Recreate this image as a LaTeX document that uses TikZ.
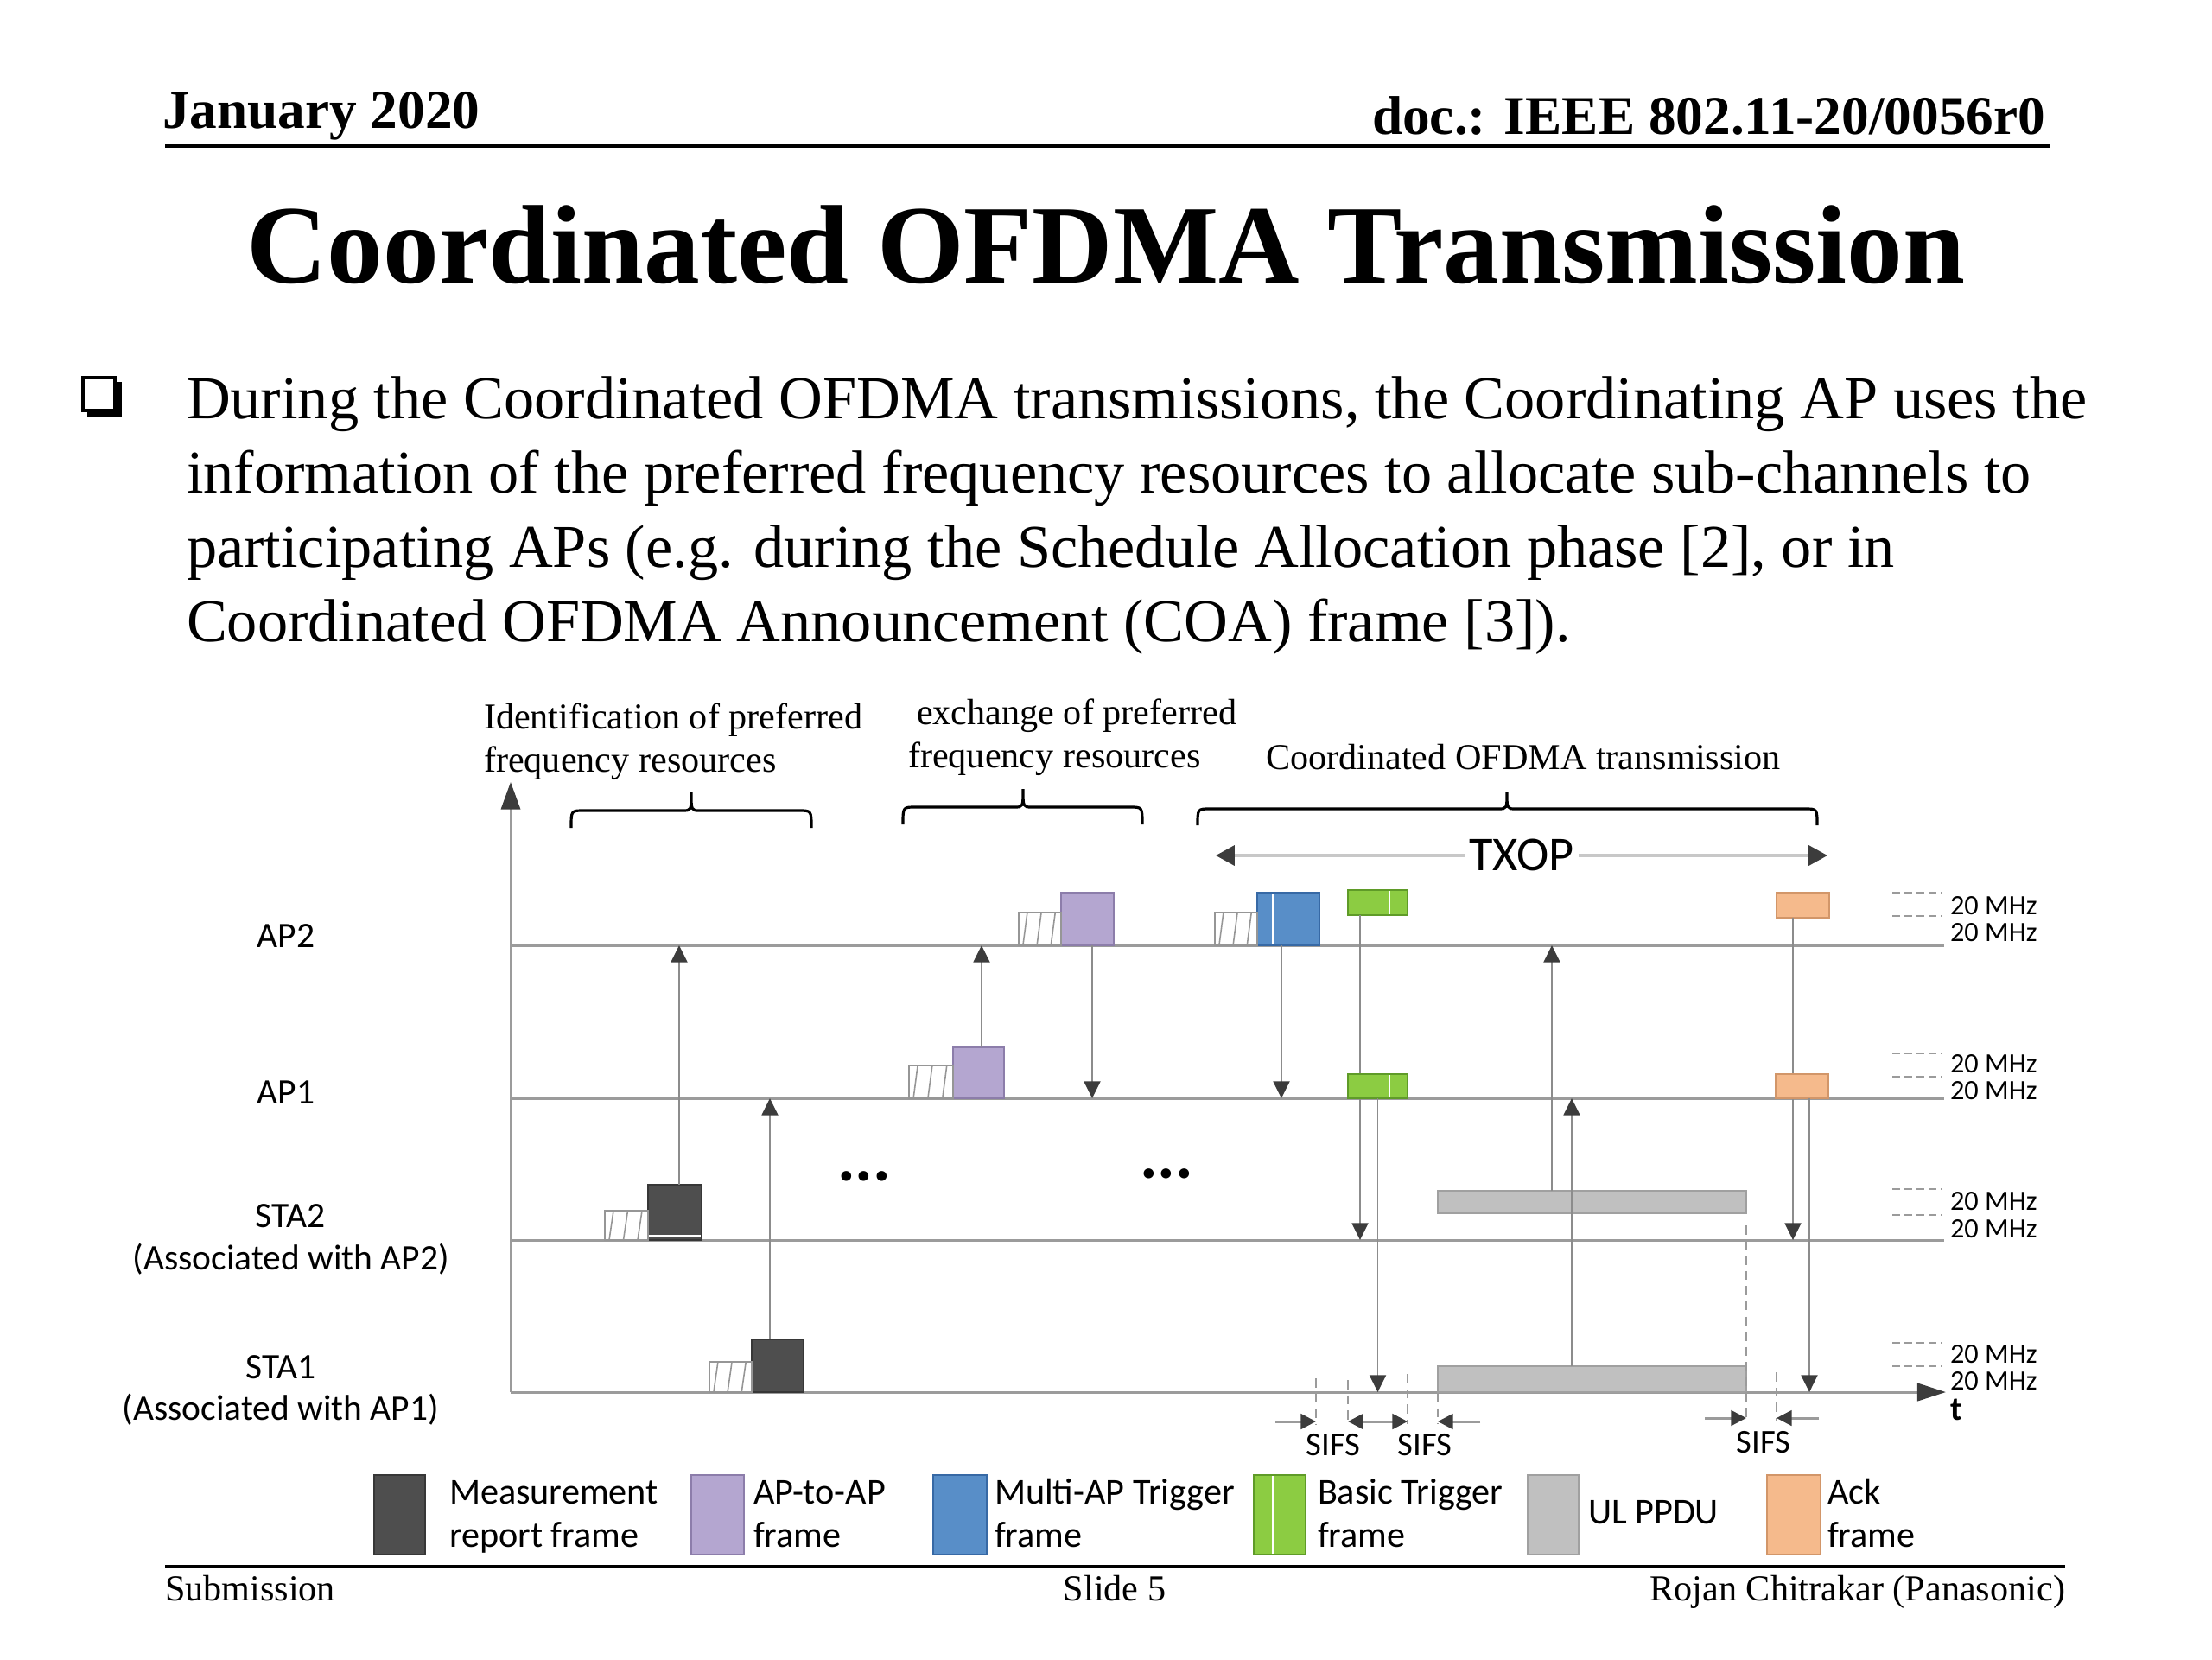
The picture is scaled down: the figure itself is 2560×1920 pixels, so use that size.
\documentclass[tikz,border=0pt]{standalone}
\usepackage{fontspec}
\setmainfont{Liberation Serif}
\newfontfamily\calibf{Carlito}
\usetikzlibrary{arrows.meta}
\definecolor{mrc}{RGB}{78,78,78}
\definecolor{mrd}{RGB}{55,55,55}
\definecolor{apc}{RGB}{180,166,208}
\definecolor{apd}{RGB}{140,125,170}
\definecolor{mtc}{RGB}{88,142,200}
\definecolor{mtd}{RGB}{55,105,165}
\definecolor{btc}{RGB}{140,204,66}
\definecolor{btd}{RGB}{95,155,40}
\definecolor{ulc}{RGB}{192,192,192}
\definecolor{uld}{RGB}{160,160,160}
\definecolor{ackc}{RGB}{245,186,140}
\definecolor{ackd}{RGB}{210,150,105}
\definecolor{linec}{RGB}{155,155,155}
\definecolor{arrc}{RGB}{140,140,140}
\definecolor{headc}{RGB}{60,60,60}
\definecolor{hatchc}{RGB}{150,150,150}
\definecolor{txopc}{RGB}{200,200,200}
\newcommand\hatchbox[4]{%
  \draw[hatchc, line width=0.45pt] (#1,#2) rectangle ({#1+#3},{#2-#4});
  \foreach \f in {0.1,0.43,0.76}{\draw[hatchc, line width=0.45pt] ({#1+\f*#3},#2) -- ({#1+\f*#3+5},{#2-#4});}}
\begin{document}
\begin{tikzpicture}[x=0.01cm,y=-0.01cm,
  every node/.style={inner sep=0pt, outer sep=0pt},
  tl/.style={draw=linec, line width=0.85pt},
  sig/.style={draw=arrc, line width=0.55pt, -{Triangle[width=5.4pt,length=5.6pt,color=headc]}},
  fr/.style 2 args={draw, line width=0.5pt, anchor=south west, minimum width=#1*0.01cm, minimum height=#2*0.01cm},
  hdr/.style={font=\fontsize{18}{20}\selectfont\bfseries},
  body/.style={anchor=base west, font=\fontsize{20}{24}\selectfont},
  foot/.style={font=\fontsize{12}{14}\selectfont},
  brl/.style={anchor=base west, font=\fontsize{12}{14}\selectfont},
  lab/.style={anchor=base, font=\calibf\fontsize{11.8}{13}\selectfont},
  mhz/.style={anchor=base west, font=\calibf\fontsize{9.2}{11}\selectfont},
  leg/.style={anchor=base west, font=\calibf\fontsize{12}{14}\selectfont},
  sifs/.style={anchor=base, font=\calibf\fontsize{11}{13}\selectfont},
  sifsd/.style={draw=linec, line width=0.45pt, dash pattern=on 3pt off 2pt},
  mhzd/.style={draw=linec, line width=0.5pt, dash pattern=on 2.5pt off 1.5pt},
  sa/.style={draw=linec, line width=0.85pt},
  brace/.style={draw=black, line width=0.9pt},
  dots/.style={anchor=base, font=\calibf\bfseries\fontsize{22}{24}\selectfont}
]
\useasboundingbox (0,0) rectangle (2560,1920);
% header
\node[hdr, anchor=base west] (hdate) at (188,148) {January 2020};
\node[hdr, anchor=base east] (hdoc) at (2367,155) {doc.: IEEE 802.11-20/0056r0};
\draw[line width=1.3pt] (191,169) -- (2373,169);
\node[anchor=base, font=\fontsize{36.8}{40}\selectfont\bfseries] (title) at (1280,327) {Coordinated OFDMA Transmission};
% bullet
\draw[line width=1.1pt] (96,437) rectangle (133,475);
\fill (133,442) rectangle (141,483);
\fill (101,475) rectangle (141,483);
\node[body] (b1) at (216,484) {During the Coordinated OFDMA transmissions, the Coordinating AP uses the};
\node[body] (b2) at (216,570) {information of the preferred frequency resources to allocate sub-channels to};
\node[body] (b3) at (216,656) {participating APs (e.g. during the Schedule Allocation phase [2], or in};
\node[body] (b4) at (216,742) {Coordinated OFDMA Announcement (COA) frame [3]).};
% phase labels
\node[brl] (p1a) at (560,843) {Identification of preferred};
\node[brl] (p1b) at (560,893) {frequency resources};
\node[brl] (p2a) at (1061,838) {exchange of preferred};
\node[brl] (p2b) at (1051,888) {frequency resources};
\node[brl] (p3a) at (1465,890) {Coordinated OFDMA transmission};
% braces
\draw[brace] (661,958) .. controls (661,938) .. (675,938) -- (790,938) .. controls (800,938) .. (800,917) .. controls (800,938) .. (810,938) -- (925,938) .. controls (939,938) .. (939,958);
\draw[brace] (1045,954) .. controls (1045,934) .. (1059,934) -- (1174,934) .. controls (1184,934) .. (1184,913) .. controls (1184,934) .. (1194,934) -- (1308,934) .. controls (1322,934) .. (1322,954);
\draw[brace] (1386,955) .. controls (1386,936) .. (1400,936) -- (1734,936) .. controls (1744,936) .. (1744,916) .. controls (1744,936) .. (1754,936) -- (2089,936) .. controls (2103,936) .. (2103,955);
% TXOP
\draw[draw=txopc, line width=1.1pt, {Triangle[width=6.5pt,length=6.2pt,color=headc]}-{Triangle[width=6.5pt,length=6.2pt,color=headc]}] (1407,990) -- (2115,990);
\node[fill=white, inner xsep=1.5pt, inner ysep=1pt, font=\calibf\fontsize{16}{18}\selectfont] (txop) at (1761,989) {TXOP};
% station labels
\node[lab] (lap2) at (331,1096) {AP2};
\node[lab] (lap1) at (331,1277) {AP1};
\node[lab] (lsta2) at (336,1420) {STA2};
\node[lab] (lsta2b) at (337,1469) {(Associated with AP2)};
\node[lab] (lsta1) at (325,1595) {STA1};
\node[lab] (lsta1b) at (325,1643) {(Associated with AP1)};
% axes and timelines
\coordinate (AP2) at (591,1094);
\coordinate (AP1) at (591,1271);
\coordinate (STA2) at (591,1435);
\coordinate (STA1) at (591,1611);
\draw[tl, -{Triangle[width=6.3pt,length=9pt,color=headc]}] (STA1) -- (591,905);
\draw[tl] (AP2) -- (2250,1094);
\draw[tl] (AP1) -- (2250,1271);
\draw[tl] (STA2) -- (2250,1435);
\draw[tl, -{Triangle[width=5.8pt,length=9.4pt,color=headc]}] (STA1) -- (2252,1611);
\node[anchor=base west, font=\calibf\bfseries\fontsize{11}{13}\selectfont] (tlab) at (2257,1643) {t};
% 20 MHz markers
\foreach \ya/\yb/\ba/\bb in {1033/1060/1058/1089, 1219/1246/1241/1272, 1376/1406/1400/1432, 1554/1581/1577/1608}{
  \draw[mhzd] (2190,\ya) -- (2247,\ya);
  \draw[mhzd] (2190,\yb) -- (2247,\yb);
  \node[mhz] at (2257,\ba) {20 MHz};
  \node[mhz] at (2257,\bb) {20 MHz};
}
% frames
\node[fr={62}{64}, fill=mrc, draw=mrd] (mr2) at (750,1435) {};
\node[fr={60}{61}, fill=mrc, draw=mrd] (mr1) at (870,1611) {};
\node[fr={59}{59}, fill=apc, draw=apd] (a1) at (1103,1271) {};
\node[fr={61}{61}, fill=apc, draw=apd] (a2) at (1228,1094) {};
\node[fr={72}{61}, fill=mtc, draw=mtd] (mt) at (1455,1094) {};
\node[fr={69}{29}, fill=btc, draw=btd] (bt2) at (1560,1059) {};
\node[fr={357}{26}, fill=ulc, draw=uld] (ul2) at (1664,1404) {};
\node[fr={357}{30}, fill=ulc, draw=uld] (ul1) at (1664,1611) {};
\node[fr={61}{29}, fill=ackc, draw=ackd] (ack2) at (2056,1062) {};
% signalling arrows
\draw[sig] ([xshift=0.05cm]mr2.north) -- ([xshift=0.05cm]mr2.north |- AP2);
\draw[sig] ([xshift=-0.09cm]mr1.north) -- ([xshift=-0.09cm]mr1.north |- AP1);
\draw[sig] ([xshift=0.035cm]a1.north) -- ([xshift=0.035cm]a1.north |- AP2);
\draw[sig] ([xshift=0.055cm]a2.south) -- ([xshift=0.055cm]a2.south |- AP1);
\draw[sig] ([xshift=-0.08cm]mt.south) -- ([xshift=-0.08cm]mt.south |- AP1);
\draw[sig] ([xshift=-0.205cm]bt2.south) -- ([xshift=-0.205cm]bt2.south |- STA2);
\draw[sig] ([xshift=-0.465cm]ul2.north) -- ([xshift=-0.465cm]ul2.north |- AP2);
\draw[sig] ([xshift=-0.235cm]ul1.north) -- ([xshift=-0.235cm]ul1.north |- AP1);
\draw[sig] ([xshift=-0.115cm]ack2.south) -- ([xshift=-0.115cm]ack2.south |- STA2);
\node[fr={69}{28}, fill=btc, draw=btd] (bt1) at (1560,1271) {};
\node[fr={61}{28}, fill=ackc, draw=ackd] (ack1) at (2055,1271) {};
\draw[sig] (bt1.south) -- (bt1.south |- STA1);
\draw[sig] ([xshift=0.085cm]ack1.south) -- ([xshift=0.085cm]ack1.south |- STA1);
% stripes
\draw[white, line width=0.8pt] (1473,1034) -- (1473,1093);
\draw[white, line width=0.8pt] (1608,1031) -- (1608,1058);
\draw[white, line width=0.8pt] (1608,1244) -- (1608,1270);
\draw[white, line width=0.8pt] (751,1430) -- (811,1430);
% preambles
\hatchbox{700}{1435}{50}{34}
\hatchbox{821}{1611}{49}{35}
\hatchbox{1052}{1271}{51}{38}
\hatchbox{1179}{1094}{49}{38}
\hatchbox{1406}{1094}{49}{38}
% dots
\node[dots] (dt1) at (1000,1366) {...};
\node[dots] (dt2) at (1350,1363) {...};
% SIFS
\draw[sifsd] (1523,1595) -- (1523,1648);
\draw[sifsd] (1560,1597) -- (1560,1648);
\draw[sifsd] (1629,1590) -- (1629,1648);
\draw[sifsd] (1664,1612) -- (1664,1648);
\draw[sifsd] (2021,1418) -- (2021,1644);
\draw[sifsd] (2056,1588) -- (2056,1644);
\draw[sa, -{Triangle[width=5pt,length=5pt,color=headc]}] (1476,1645) -- (1523,1645);
\draw[sa, {Triangle[width=5pt,length=5pt,color=headc]}-{Triangle[width=5pt,length=5pt,color=headc]}] (1560,1645) -- (1629,1645);
\draw[sa, -{Triangle[width=5pt,length=5pt,color=headc]}] (1713,1645) -- (1664,1645);
\draw[sa, -{Triangle[width=5pt,length=5pt,color=headc]}] (1973,1641) -- (2021,1641);
\draw[sa, -{Triangle[width=5pt,length=5pt,color=headc]}] (2105,1641) -- (2056,1641);
\node[sifs] (s1) at (1543,1684) {SIFS};
\node[sifs] (s2) at (1649,1684) {SIFS};
\node[sifs] (s3) at (2041,1681) {SIFS};
% legend
\node[fr={59}{92}, fill=mrc, draw=mrd] (l1) at (433,1799) {};
\node[fr={61}{92}, fill=apc, draw=apd] (l2) at (800,1799) {};
\node[fr={62}{92}, fill=mtc, draw=mtd] (l3) at (1080,1799) {};
\node[fr={60}{92}, fill=btc, draw=btd] (l4) at (1451,1799) {};
\draw[white, line width=0.8pt] (1473,1708) -- (1473,1798);
\node[fr={59}{92}, fill=ulc, draw=uld] (l5) at (1768,1799) {};
\node[fr={62}{92}, fill=ackc, draw=ackd] (l6) at (2045,1799) {};
\node[leg] (t1a) at (520,1740) {Measurement};
\node[leg] (t1b) at (520,1790) {report frame};
\node[leg] (t2a) at (872,1740) {AP-to-AP};
\node[leg] (t2b) at (872,1790) {frame};
\node[leg] (t3a) at (1151,1740) {Multi-AP Trigger};
\node[leg] (t3b) at (1151,1790) {frame};
\node[leg] (t4a) at (1525,1740) {Basic Trigger};
\node[leg] (t4b) at (1525,1790) {frame};
\node[leg] (t5) at (1838,1763) {UL PPDU};
\node[leg] (t6a) at (2115,1740) {Ack};
\node[leg] (t6b) at (2115,1790) {frame};
% footer
\draw[line width=1.3pt] (191,1813) -- (2390,1813);
\node[foot, anchor=base west] (fsub) at (191,1852) {Submission};
\node[foot, anchor=base] (fslide) at (1290,1852) {Slide 5};
\node[foot, anchor=base east] (fauth) at (2390,1852) {Rojan Chitrakar (Panasonic)};
\end{tikzpicture}
\end{document}
